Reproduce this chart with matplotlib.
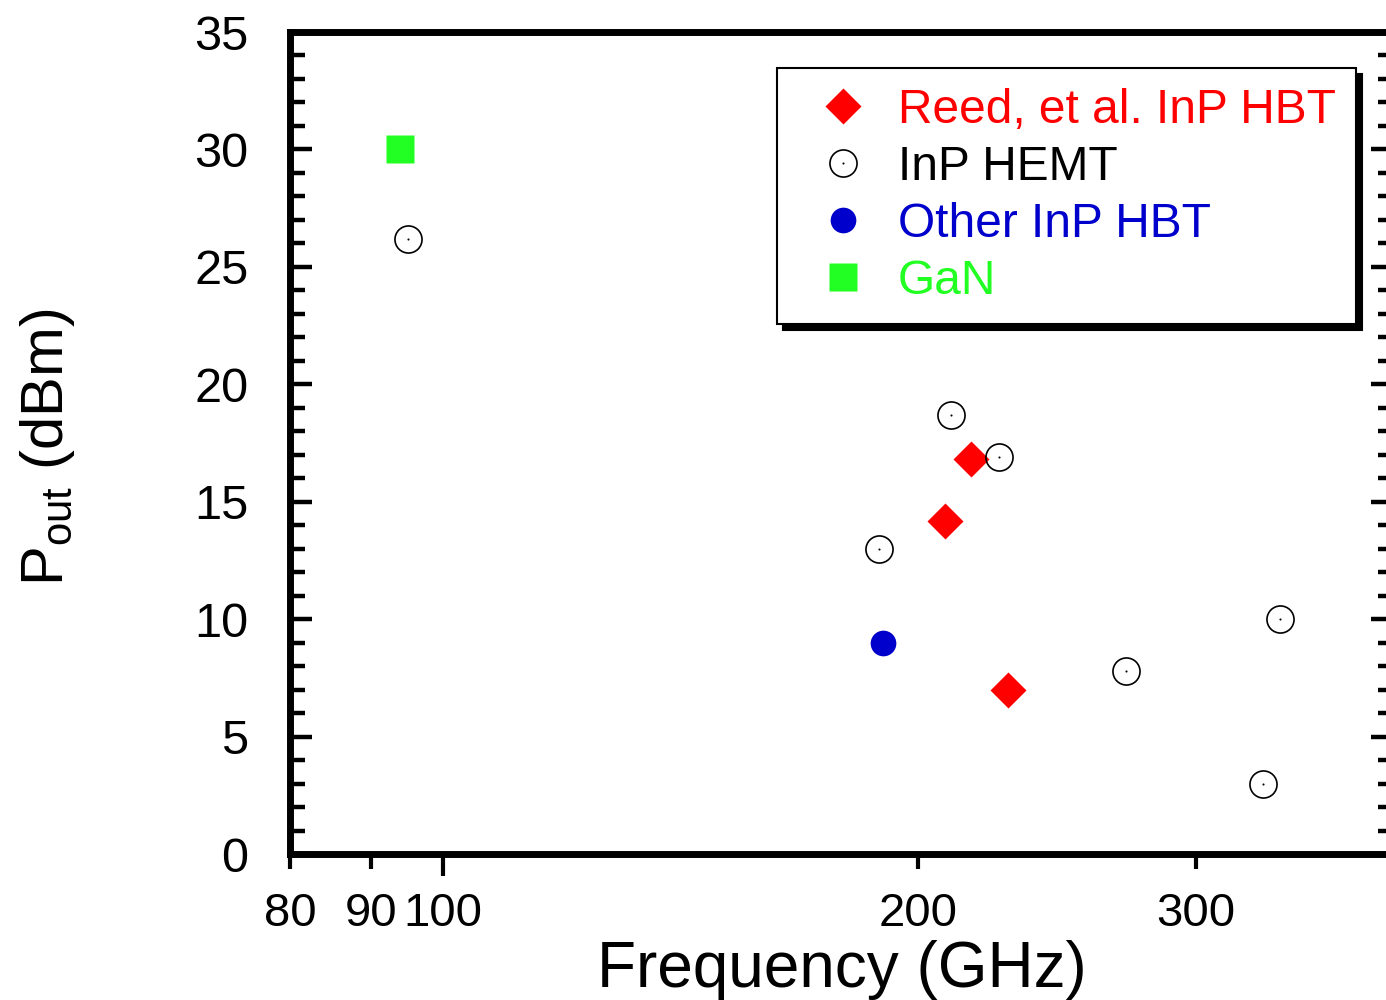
import matplotlib
matplotlib.use('Agg')
import matplotlib.pyplot as plt

plt.rcParams['font.family'] = ['Liberation Sans', 'DejaVu Sans']
plt.rcParams['mathtext.fontset'] = 'custom'
plt.rcParams['mathtext.rm'] = 'Liberation Sans'
plt.rcParams['mathtext.it'] = 'Liberation Sans:italic'

# values (frequency in GHz, Pout in dBm)
reed_f = [208, 216, 228]
reed_p = [14.2, 16.8, 7.0]
hemt_f = [95, 189, 210, 225, 271, 331, 339]
hemt_p = [26.2, 13.0, 18.7, 16.9, 7.8, 3.0, 10.0]
other_f = [190]
other_p = [9.0]
gan_f = [94]
gan_p = [30.0]

labels = ['Reed, et al. InP HBT', 'InP HEMT', 'Other InP HBT', 'GaN']
colors = ['#ff0000', 'black', '#0000cc', '#22ff22']

x_minor = [80, 90, 200, 300]
x_major = [100]

fig = plt.figure(figsize=(13.86, 10), dpi=100)
ax = fig.add_axes([0.2092, 0.146, 0.7958, 0.822])

h_reed, = ax.plot(reed_f, reed_p, 'D', color=colors[0], ms=18, mec='none')
h_ring, = ax.plot(hemt_f, hemt_p, 'o', mfc='none', mec='black', mew=1.2, ms=19.5)
h_dot, = ax.plot(hemt_f, hemt_p, 'o', color='black', ms=1.5, mew=0)
h_other, = ax.plot(other_f, other_p, 'o', color=colors[2], ms=18.5, mec='none')
h_gan, = ax.plot(gan_f, gan_p, 's', color=colors[3], ms=20.5, mec='none')

ax.set_xscale('log')
ax.set_xlim(80, 400)
ax.set_ylim(0, 35)

ax.set_xticks(x_major, labels=[str(v) for v in x_major])
ax.set_xticks(x_minor, labels=[str(v) for v in x_minor], minor=True)
ax.set_yticks(range(0, 36, 5))
ax.set_yticks(range(0, 36, 1), minor=True)

for s in ax.spines.values():
    s.set_linewidth(5)

ax.tick_params(axis='x', which='major', direction='out', length=16, width=3, pad=11, labelsize=34)
ax.tick_params(axis='x', which='minor', direction='out', length=11, width=3, pad=16, labelsize=34)
ax.tick_params(axis='y', which='major', direction='in', length=16, width=3.2, pad=30,
               labelsize=35, right=True)
ax.tick_params(axis='y', which='minor', direction='in', length=11, width=3.2, right=True)

ax.set_xlabel('Frequency (GHz)', fontsize=46)
ax.xaxis.set_label_coords(0.5, -0.105)
ax.set_ylabel(r'P$_{\rm out}$ (dBm)', fontsize=43, va='center')
ax.yaxis.set_label_coords(-0.22, 0.495)

leg = ax.legend([h_reed, (h_ring, h_dot), h_other, h_gan], labels,
                loc='upper left', bbox_to_anchor=(777 / 1386, 1 - 68 / 1000),
                bbox_transform=fig.transFigure, borderaxespad=0,
                numpoints=1, fontsize=34.5, labelcolor=colors,
                fancybox=False, framealpha=1, edgecolor='black',
                borderpad=0.42, labelspacing=0.25, handlelength=1.9, handletextpad=0.2,
                shadow={'ox': 4.5, 'oy': -4.5, 'facecolor': 'black', 'edgecolor': 'black', 'alpha': 1})
leg.get_frame().set_linewidth(1.5)

fig.savefig('out.png', dpi=100)
